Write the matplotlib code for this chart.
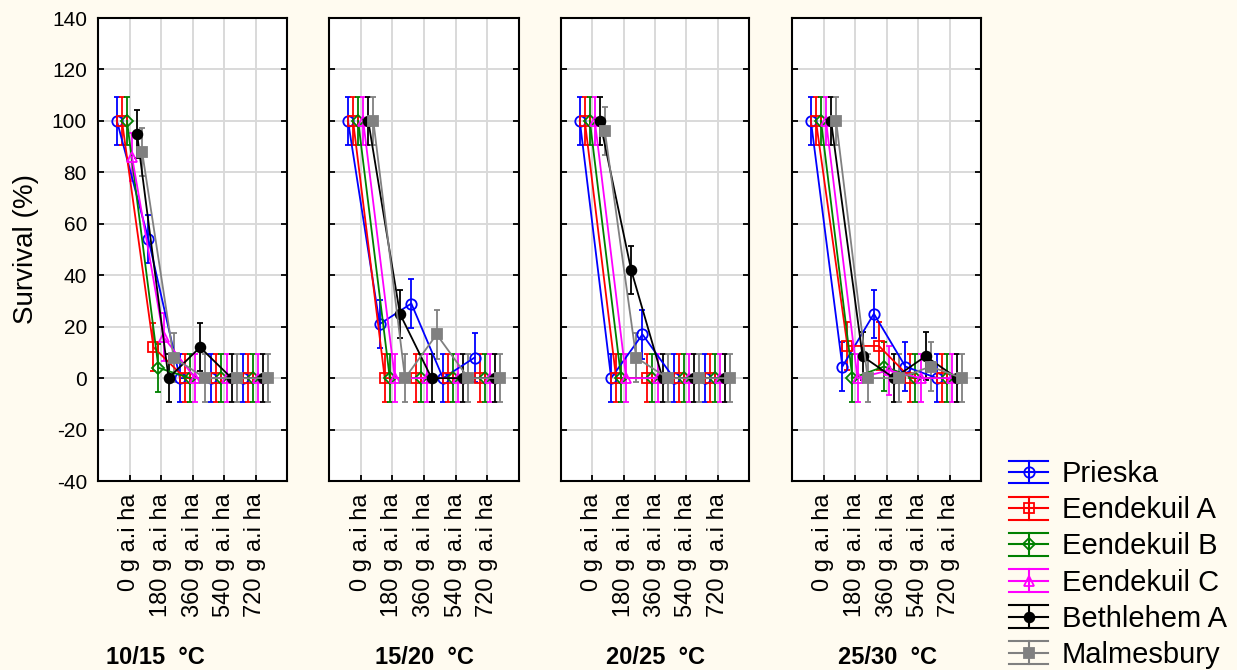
import matplotlib.pyplot as plt
import numpy as np
from matplotlib.lines import Line2D
from matplotlib.legend_handler import HandlerBase

plt.rcParams['font.family'] = ['Liberation Sans', 'DejaVu Sans']
plt.rcParams['axes.unicode_minus'] = False

# Data
doses = ['0 g a.i ha', '180 g a.i ha', '360 g a.i ha', '540 g a.i ha', '720 g a.i ha']
temps = ['10/15  °C', '15/20  °C', '20/25  °C', '25/30  °C']
series = ['Prieska', 'Eendekuil A', 'Eendekuil B', 'Eendekuil C', 'Bethlehem A', 'Malmesbury']

# survival (%) per temperature regime, one row per population
surv_1015 = [[100, 54, 0, 0, 0],
             [100, 12, 0, 0, 0],
             [100, 4, 0, 0, 0],
             [86, 16, 0, 0, 0],
             [95, 0, 12, 0, 0],
             [88, 8, 0, 0, 0]]
surv_1520 = [[100, 21, 29, 0, 8],
             [100, 0, 0, 0, 0],
             [100, 0, 0, 0, 0],
             [100, 0, 0, 0, 0],
             [100, 25, 0, 0, 0],
             [100, 0, 17, 0, 0]]
surv_2025 = [[100, 0, 17, 0, 0],
             [100, 0, 0, 0, 0],
             [100, 0, 0, 0, 0],
             [100, 0, 0, 0, 0],
             [100, 42, 0, 0, 0],
             [96, 8, 0, 0, 0]]
surv_2530 = [[100, 4.5, 25, 4.5, 0],
             [100, 12.5, 12.5, 0, 0],
             [100, 0, 4.5, 0, 0],
             [100, 0, 3, 0, 0],
             [100, 8.5, 0, 8.5, 0],
             [100, 0, 0, 4.5, 0]]
panels = [surv_1015, surv_1520, surv_2025, surv_2530]
std_err = 9.4  # error bars look the same for every mean

colors = ['#0000ff', '#ff0000', '#008000', '#ff00ff', '#000000', '#808080']
markers = ['o', 's', 'D', '^', 'o', 's']
filled = [False, False, False, False, True, True]
msizes = [7.5, 7.5, 6, 7.5, 7, 7.5]

bg = '#fffbf0'
fig = plt.figure(figsize=(12.37, 6.70), dpi=100, facecolor=bg)

lefts = [98, 329, 561, 792]
widths = [189, 190, 188, 189]
title_x = [155, 424, 656, 888]
x = np.arange(len(doses))
offsets = (np.arange(len(series)) - 2.5) * 0.16

for p, data in enumerate(panels):
    ax = fig.add_axes([lefts[p] / 1237, 1 - 481 / 670, widths[p] / 1237, 463 / 670])
    ax.set_facecolor('white')
    for i in range(len(series)):
        mfc = colors[i] if filled[i] else 'none'
        ax.errorbar(x + offsets[i], data[i], yerr=std_err, color=colors[i],
                    marker=markers[i], mfc=mfc, mec=colors[i], ms=msizes[i],
                    mew=1.3, lw=1.3, elinewidth=1.3, capsize=2, capthick=1.3, zorder=3)
    ax.set_xlim(-1, 5)
    ax.set_ylim(-40, 140)
    ax.set_yticks(np.arange(-40, 141, 20))
    ax.set_xticks(x)
    ax.set_xticklabels(doses, rotation=90, fontsize=17)
    ax.grid(True, color='#d9d9d9', lw=1.4, zorder=0)
    ax.tick_params(direction='in', length=4, width=1.3, right=True)
    ax.tick_params(axis='y', labelsize=15, pad=8)
    ax.tick_params(axis='x', pad=9)
    if p > 0:
        ax.tick_params(labelleft=False)
    for s in ax.spines.values():
        s.set_linewidth(1.5)
    fig.text(title_x[p] / 1237, 1 - 657 / 670, temps[p], ha='center', va='center',
             fontsize=17, fontweight='bold')
    if p == 0:
        ax.set_ylabel('Survival (%)', fontsize=20, labelpad=9)


class ErrHandler(HandlerBase):
    def create_artists(self, legend, orig_handle, xdescent, ydescent,
                       width, height, fontsize, trans):
        c = orig_handle.get_color()
        x0, x1 = -xdescent, width - xdescent
        y0, y1 = -ydescent, height - ydescent
        xm, ym = (x0 + x1) / 2, (y0 + y1) / 2
        arts = [Line2D([x0, x1], [y, y], color=c, lw=1.5) for y in (y0, ym, y1)]
        arts.append(Line2D([xm, xm], [y0, y1], color=c, lw=1.5))
        arts.append(Line2D([xm], [ym], marker=orig_handle.get_marker(), ls='none',
                           mfc=orig_handle.get_markerfacecolor(), mec=c, mew=1.3,
                           ms=orig_handle.get_markersize()))
        for a in arts:
            a.set_transform(trans)
        return arts


handles = [Line2D([], [], color=colors[i], marker=markers[i],
                  mfc=colors[i] if filled[i] else 'none', ms=msizes[i])
           for i in range(len(series))]
fig.legend(handles, series, handler_map={Line2D: ErrHandler()}, loc='lower left',
           bbox_to_anchor=(1009 / 1237, 1 / 670), frameon=False, fontsize=21,
           handlelength=1.35, handleheight=0.83, labelspacing=0.28,
           handletextpad=0.45, borderpad=0, borderaxespad=0)

fig.savefig('out.png', dpi=100, facecolor=bg)
